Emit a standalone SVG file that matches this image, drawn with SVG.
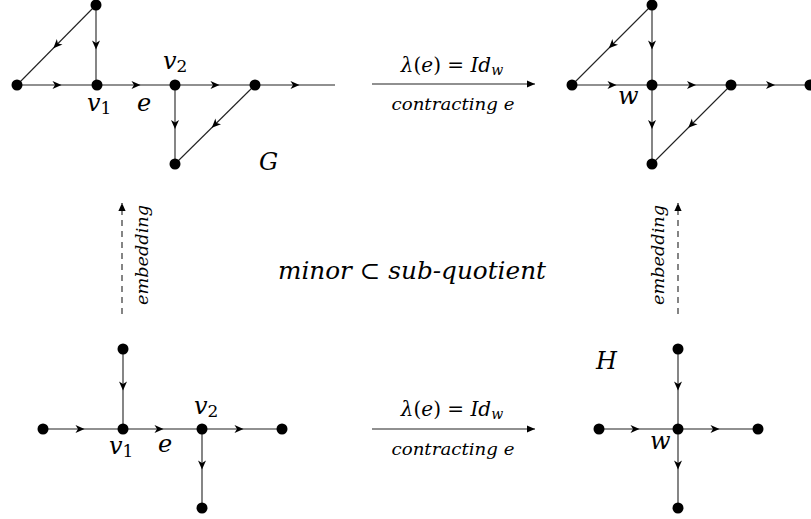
<svg xmlns="http://www.w3.org/2000/svg" width="811" height="519" viewBox="0 0 811 519">
<style>
.e{fill:none;stroke:#222;stroke-width:1.1;marker-mid:url(#mid)}
.n{fill:#000}
.t{font-family:"DejaVu Serif","Liberation Serif",serif;font-style:italic;fill:#000}
.lab{font-size:24px}
.sm{font-size:17px}
.md{font-size:20px}
.up{font-style:normal}
.arr{fill:none;stroke:#222;stroke-width:1.1;marker-end:url(#head)}
.dash{fill:none;stroke:#222;stroke-width:1.1;stroke-dasharray:6 5;marker-end:url(#head)}
</style>
<defs>
<marker id="mid" markerUnits="userSpaceOnUse" markerWidth="12" markerHeight="12" refX="0" refY="0" viewBox="-6 -6 12 12" orient="auto">
<path d="M-4.5,-4 L4.5,0 L-4.5,4 L-2,0 Z" fill="#000"/>
</marker>
<marker id="head" markerUnits="userSpaceOnUse" markerWidth="12" markerHeight="12" refX="8" refY="0" viewBox="0 -6 12 12" orient="auto">
<path d="M0,-3.6 L8,0 L0,3.6 Z" fill="#000"/>
</marker>
</defs>

<g id="connectors">
<path class="e" d="M17,85 L57,85 L97,85"/>
<path class="e" d="M97,85 L136,85 L175,85"/>
<path class="e" d="M175,85 L215,85 L255,85"/>
<path class="e" d="M255,85 L295,85 L335,85"/>
<path class="e" d="M96,5 L96,45 L96,85"/>
<path class="e" d="M96,5 L56.5,45 L17,85"/>
<path class="e" d="M175,85 L175,124.5 L175,164"/>
<path class="e" d="M255,85 L215,124.5 L175,164"/>
<path class="e" d="M572,85 L612,85 L652,85"/>
<path class="e" d="M652,85 L691.5,85 L731,85"/>
<path class="e" d="M731,85 L770.5,85 L810,85"/>
<path class="e" d="M652,5 L652,45 L652,85"/>
<path class="e" d="M652,5 L612,45 L572,85"/>
<path class="e" d="M652,85 L652,124.5 L652,164"/>
<path class="e" d="M731,85 L691.5,124.5 L652,164"/>
<path class="e" d="M43,429 L80,429 L123,429"/>
<path class="e" d="M123,429 L159,429 L202,429"/>
<path class="e" d="M202,429 L239,429 L282,429"/>
<path class="e" d="M123,349 L123,386 L123,429"/>
<path class="e" d="M202,429 L202,465 L202,508"/>
<path class="e" d="M599,429 L635,429 L678,429"/>
<path class="e" d="M678,429 L715,429 L758,429"/>
<path class="e" d="M678,349 L678,386 L678,429"/>
<path class="e" d="M678,429 L678,465 L678,508"/>
<path class="arr" d="M372,84 L535,84"/>
<path class="arr" d="M372,429 L535,429"/>
<path class="dash" d="M122,314 L122,203"/>
<path class="dash" d="M678,314 L678,203"/>
</g>

<g id="node-G">
<circle class="n" cx="96" cy="5" r="5.5"/>
<circle class="n" cx="17" cy="85" r="5.5"/>
<circle class="n" cx="97" cy="85" r="5.5"/>
<circle class="n" cx="175" cy="85" r="5.5"/>
<circle class="n" cx="255" cy="85" r="5.5"/>
<circle class="n" cx="175" cy="164" r="5.5"/>
<text class="t lab" x="163" y="69">v<tspan class="up" font-size="17" dy="3">2</tspan></text>
<text class="t lab" x="87" y="111">v<tspan class="up" font-size="17" dy="3">1</tspan></text>
<text class="t lab" x="137" y="111">e</text>
<text class="t lab" x="259" y="170">G</text>
</g>

<g id="node-Gcontracted">
<circle class="n" cx="652" cy="5" r="5.5"/>
<circle class="n" cx="572" cy="85" r="5.5"/>
<circle class="n" cx="652" cy="85" r="5.5"/>
<circle class="n" cx="731" cy="85" r="5.5"/>
<circle class="n" cx="810" cy="85" r="5.5"/>
<circle class="n" cx="652" cy="164" r="5.5"/>
<text class="t lab" x="618" y="104">w</text>
</g>

<g id="node-minor">
<circle class="n" cx="123" cy="349" r="5.5"/>
<circle class="n" cx="43" cy="429" r="5.5"/>
<circle class="n" cx="123" cy="429" r="5.5"/>
<circle class="n" cx="202" cy="429" r="5.5"/>
<circle class="n" cx="282" cy="429" r="5.5"/>
<circle class="n" cx="202" cy="508" r="5.5"/>
<text class="t lab" x="194" y="414">v<tspan class="up" font-size="17" dy="3">2</tspan></text>
<text class="t lab" x="109" y="454">v<tspan class="up" font-size="17" dy="3">1</tspan></text>
<text class="t lab" x="158" y="452">e</text>
</g>

<g id="node-H">
<circle class="n" cx="678" cy="349" r="5.5"/>
<circle class="n" cx="599" cy="429" r="5.5"/>
<circle class="n" cx="678" cy="429" r="5.5"/>
<circle class="n" cx="758" cy="429" r="5.5"/>
<circle class="n" cx="678" cy="508" r="5.5"/>
<text class="t lab" x="596" y="369">H</text>
<text class="t lab" x="650" y="449">w</text>
</g>

<g id="labels">
<text class="t md" x="452" y="72" text-anchor="middle">λ<tspan class="up">(</tspan>e<tspan class="up">) = </tspan>Id<tspan font-size="14" dy="3">w</tspan></text>
<text class="t sm" x="453" y="110" text-anchor="middle" textLength="123" lengthAdjust="spacingAndGlyphs">contracting e</text>
<text class="t md" x="452" y="416" text-anchor="middle">λ<tspan class="up">(</tspan>e<tspan class="up">) = </tspan>Id<tspan font-size="14" dy="3">w</tspan></text>
<text class="t sm" x="453" y="455" text-anchor="middle" textLength="123" lengthAdjust="spacingAndGlyphs">contracting e</text>
<text class="t sm" transform="translate(148,255) rotate(-90)" text-anchor="middle" textLength="100" lengthAdjust="spacingAndGlyphs">embedding</text>
<text class="t sm" transform="translate(664,255) rotate(-90)" text-anchor="middle" textLength="100" lengthAdjust="spacingAndGlyphs">embedding</text>
<text class="t lab" x="412" y="279" text-anchor="middle" textLength="268" lengthAdjust="spacingAndGlyphs">minor <tspan class="up">⊂</tspan> sub-quotient</text>
</g>
</svg>
